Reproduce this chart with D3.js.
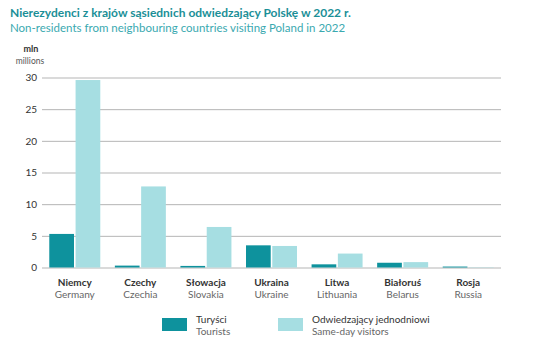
<!DOCTYPE html>
<html><head><meta charset="utf-8">
<script src="https://cdn.jsdelivr.net/npm/d3@7"></script>
<style>
body{margin:0;background:#fff;}
text{font-family:Lato,"Open Sans",sans-serif;}
</style></head>
<body>
<svg id="c" width="536" height="339"></svg>
<script>
const categoriesPL = ["Niemcy","Czechy","Słowacja","Ukraina","Litwa","Białoruś","Rosja"];
const categoriesEN = ["Germany","Czechia","Slovakia","Ukraine","Lithuania","Belarus","Russia"];
const tourists = [5.3, 0.3, 0.25, 3.5, 0.5, 0.75, 0.15];
const sameDay = [29.6, 12.8, 6.4, 3.4, 2.2, 0.85, 0.05];
const yTicks = [0,5,10,15,20,25,30];
const seriesPL = ["Turyści","Odwiedzający jednodniowi"];
const seriesEN = ["Tourists","Same-day visitors"];
const colors = ["#0e929d","#a6dee2"];

const svg = d3.select("#c");
const y = d3.scaleLinear().domain([0,30]).range([267.5,77.5]);
const x0 = d3.scaleBand().domain(categoriesPL).range([42,501]).paddingInner(0);
const x1 = d3.scaleBand().domain([0,1]).range([0,51]).paddingInner(0.06);

svg.append("text").attr("x",10).attr("y",17).attr("fill","#1b8f97")
  .attr("font-weight","bold").attr("font-size",12)
  .text("Nierezydenci z krajów sąsiednich odwiedzający Polskę w 2022 r.");
svg.append("text").attr("x",10).attr("y",32).attr("fill","#3aa9b0")
  .attr("font-size",11.5)
  .text("Non-residents from neighbouring countries visiting Poland in 2022");

svg.append("text").attr("x",31).attr("y",52).attr("text-anchor","middle")
  .attr("font-size",9).attr("font-weight","bold").attr("fill","#333").text("mln");
svg.append("text").attr("x",30).attr("y",64).attr("text-anchor","middle")
  .attr("font-size",8.5).attr("fill","#555").text("millions");

// grid + y labels
const yAxis = d3.axisLeft(y).tickValues(yTicks).tickSize(-(501-42)).tickPadding(5);
const ga = svg.append("g").attr("transform","translate(42,0)").call(yAxis);
ga.select(".domain").remove();
ga.selectAll(".tick line").attr("stroke","#b5b5b5").attr("stroke-width",1);
ga.selectAll(".tick text").attr("font-size",10).attr("fill","#333")
  .attr("font-family","Lato,'Open Sans',sans-serif");

const groups = svg.append("g").selectAll("g").data(categoriesPL).join("g")
  .attr("transform",d=>`translate(${x0(d)+x0.bandwidth()/2-25.5},0)`);
groups.selectAll("rect").data((d,i)=>[tourists[i],sameDay[i]]).join("rect")
  .attr("x",(v,j)=>x1(j)).attr("width",x1.bandwidth())
  .attr("y",v=>y(v)).attr("height",v=>y(0)-y(v))
  .attr("fill",(v,j)=>colors[j]);

// category labels
categoriesPL.forEach((c,i)=>{
  const cx = x0(c)+x0.bandwidth()/2;
  svg.append("text").attr("x",cx).attr("y",286).attr("text-anchor","middle")
    .attr("font-size",10).attr("font-weight","bold").attr("fill","#333").text(c);
  svg.append("text").attr("x",cx).attr("y",298).attr("text-anchor","middle")
    .attr("font-size",10).attr("fill","#666").text(categoriesEN[i]);
});

// legend
const legX = [162,278];
seriesPL.forEach((s,i)=>{
  svg.append("rect").attr("x",legX[i]).attr("y",318).attr("width",25).attr("height",13).attr("fill",colors[i]);
  svg.append("text").attr("x",legX[i]+34).attr("y",323).attr("font-size",10).attr("fill","#333").text(s);
  svg.append("text").attr("x",legX[i]+34).attr("y",335).attr("font-size",10).attr("fill","#666").text(seriesEN[i]);
});
</script>
</body></html>
